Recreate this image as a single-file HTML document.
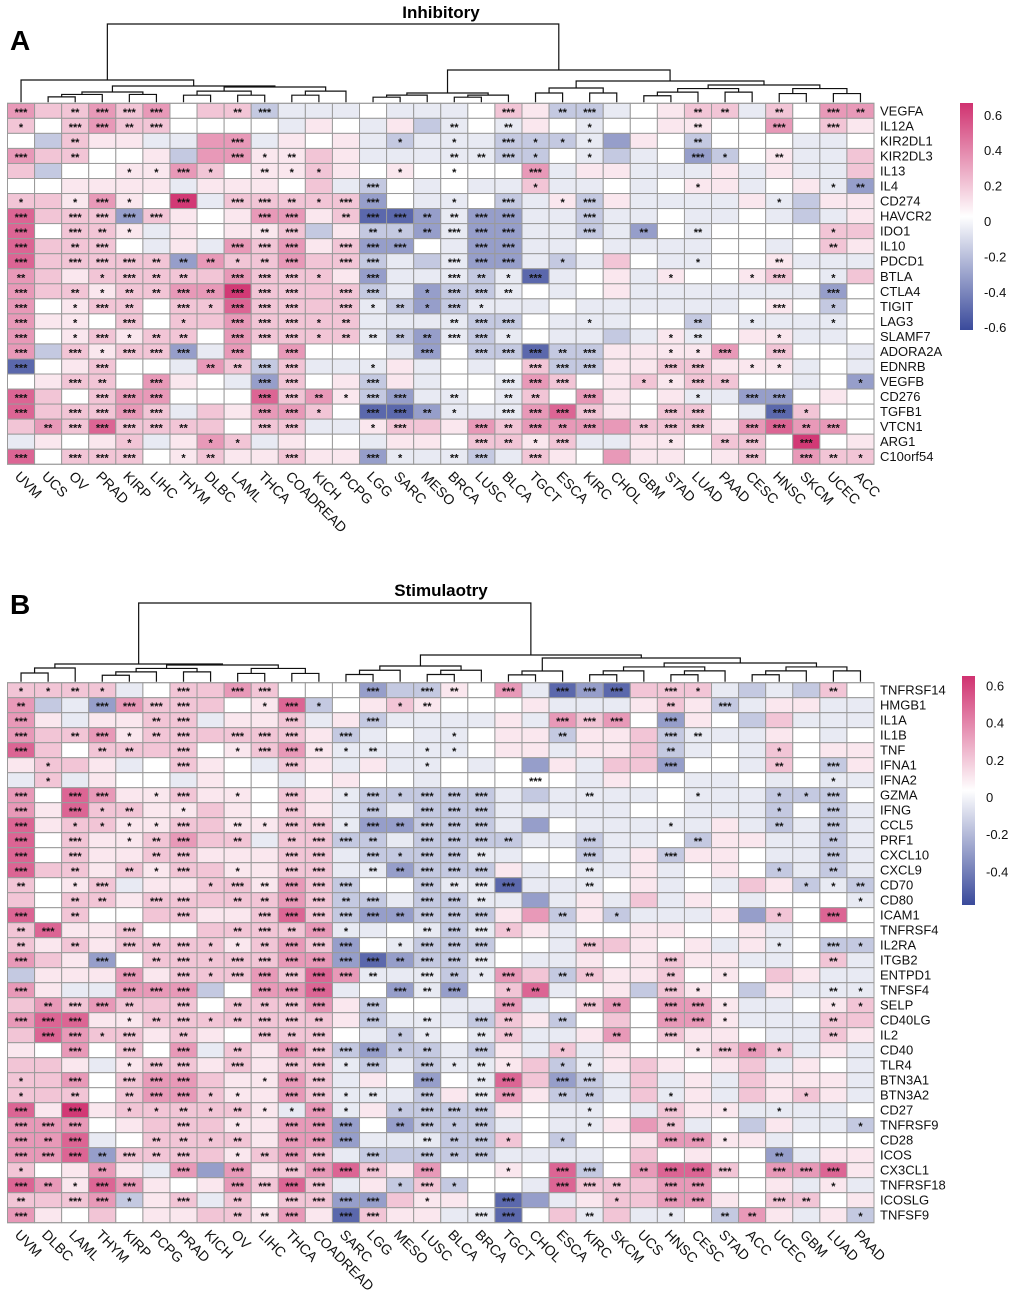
<!DOCTYPE html>
<html><head><meta charset="utf-8"><title>Immune checkpoint heatmaps</title>
<style>
html,body{margin:0;padding:0;background:#fff;}
svg{display:block;font-family:"Liberation Sans",Arial,sans-serif;}
</style></head>
<body>
<svg id="chart" width="1020" height="1299" viewBox="0 0 1020 1299" xmlns="http://www.w3.org/2000/svg">
<defs>
<linearGradient id="gradA" x1="0" y1="0" x2="0" y2="1">
<stop offset="0" stop-color="#d03270"/><stop offset="0.5" stop-color="#ffffff"/><stop offset="1" stop-color="#3a4a9b"/>
</linearGradient>
</defs>
<text x="441" y="18" text-anchor="middle" font-size="17" font-weight="bold">Inhibitory</text>
<text x="10" y="50" font-size="28" font-weight="bold">A</text>
<text x="441" y="596" text-anchor="middle" font-size="17" font-weight="bold">Stimulaotry</text>
<text x="10" y="614" font-size="28" font-weight="bold">B</text>
<g id="layer"></g>
</svg>
<script>
// ---- Panel A data ----
// value codes: C=-0.5 B=-0.32 A=-0.18 a=-0.07 0=0 o=0.07 1=0.17 2=0.3 3=0.45 4=0.58
const colsA = ["UVM","UCS","OV","PRAD","KIRP","LIHC","THYM","DLBC","LAML","THCA","COADREAD","KICH","PCPG","LGG","SARC","MESO","BRCA","LUSC","BLCA","TGCT","ESCA","KIRC","CHOL","GBM","STAD","LUAD","PAAD","CESC","HNSC","SKCM","UCEC","ACC"];
const rowsA = ["VEGFA","IL12A","KIR2DL1","KIR2DL3","IL13","IL4","CD274","HAVCR2","IDO1","IL10","PDCD1","BTLA","CTLA4","TIGIT","LAG3","SLAMF7","ADORA2A","EDNRB","VEGFB","CD276","TGFB1","VTCN1","ARG1","C10orf54"];
const valsA = [
"211212011Aaaa0aa"+"a01oAAa0o11a1022",
"1012110000ao0aoA"+"a0ao0a00oo00201o",
"0A1ooaa22ao0oaAa"+"aaAAAaBo0A000aa0",
"21100oA22oo1oaaa"+"aaAA0aAa0BA0oaa1",
"1A00oo210oo1o0o0"+"0002aooaaaoaoaa1",
"00ooooaooo01aA0a"+"0aa1aa0a0ooa0oaB",
"11o2o04a11111B0a"+"a0AaoAoaaaaoaAoo",
"3111B1o0o22o1CCB"+"aBBaaAaa0aa0aAao",
"3011oao0oo1AoAAB"+"aBBaaAaB0a000011",
"31110aoa212o1BB0"+"aBBaa0aaaa00a01o",
"311111B211211AaA"+"aBBaAa10aa00oaaa",
"21o111112111oBaa"+"aAaCa0oao00o10a1",
"211o112241111AaB"+"AAa0a0oaaaaaaaB0",
"20o1101131111aAB"+"Aaaa0aaaaaa0o0A0",
"2oo0101121111aaa"+"aAA0aaa00A0aaaa0",
"20o1o11021111aAB"+"aAa0aaAaoa0ooaa0",
"2A1o11Ba202000aB"+"0AACAAoooo20100a",
"C0o100a21A1aaaoa"+"0a01AAoo11oooa0a",
"0o1102o0aB10oAoa"+"00a210o1o1100a0B",
"310122000312oABa"+"a0a102o0oaaBB0o0",
"311121a1o2210CCB"+"aaa231o0110aC100",
"12131111011aao11"+"o212222111o23220",
"ao0o1ao21ao00aoo"+"011o1aaoo011040o",
"301110o1oo1ooBaa"+"aAa1o02oo0o10211"];
const starsA = [
"3023330023000000"+"0030230002202032",
"1033230000000000"+"2020010002003030",
"0020000030000010"+"1031110002000000",
"3020000031200000"+"2231010003102000",
"0000113102110010"+"1003000000000000",
"0000000000000300"+"0001000001000012",
"1013103033213300"+"1030130000001000",
"3033330003302332"+"2330030000000000",
"3032100002300212"+"3330030202000010",
"3023000033303330"+"0330000000000020",
"3033322212303300"+"3330100001002000",
"2001322033310300"+"3213000010013010",
"3021223233303301"+"3320000000000030",
"3013203133303121"+"3100000000003010",
"3010301033312000"+"2330010002010010",
"3013122033312222"+"3310000012001000",
"3031333030300003"+"0333230011303000",
"3003000223300100"+"0003330033011000",
"0032030003300300"+"0033300113200001",
"3003330003321330"+"2022030001033000",
"3033330003310332"+"1033330033003100",
"0233332003300130"+"0323230233033230",
"0000100110000000"+"0321300010230300",
"3033301200300310"+"2303000000030321"];
const ticksA = ["0.6","0.4","0.2","0","-0.2","-0.4","-0.6"];
const tickValsA = [0.6,0.4,0.2,0,-0.2,-0.4,-0.6];

// ---- Panel B data ----
const colsB = ["UVM","DLBC","LAML","THYM","KIRP","PCPG","PRAD","KICH","OV","LIHC","THCA","COADREAD","SARC","LGG","MESO","LUSC","BLCA","BRCA","TGCT","CHOL","ESCA","KIRC","SKCM","UCS","HNSC","CESC","STAD","ACC","UCEC","GBM","LUAD","PAAD"];
const rowsB = ["TNFRSF14","HMGB1","IL1A","IL1B","TNF","IFNA1","IFNA2","GZMA","IFNG","CCL5","PRF1","CXCL10","CXCL9","CD70","CD80","ICAM1","TNFRSF4","IL2RA","ITGB2","ENTPD1","TNFSF4","SELP","CD40LG","IL2","CD40","TLR4","BTN3A1","BTN3A2","CD27","TNFRSF9","CD28","ICOS","CX3CL1","TNFRSF18","ICOSLG","TNFSF9"];
const valsB = [
"1111a01121000BAA"+"o02aCBC111aAaA10",
"2AaB21110o3A0o1o"+"000oaaao1oAaooaa",
"2oaoo11aoo1aoAaa"+"aaoa2120Bo0A1aaa",
"2112o111111oAa0a"+"a0ooAoo1Aaaao0a0",
"31011110o12oaaaa"+"a0ooaoo1Aa0a10oo",
"o11oa01o0a1oaoaa"+"0a0Boa11B00a10Ao",
"a1ao00ao00a0o00a"+"00000ao00aa0a0aa",
"2032oo1oo01oaAAA"+"AAaAaaaa0aaaAAA0",
"2o311oo1o01oaAaA"+"AAaaaaa00aaaA0Aa",
"3o11oo11oo11aBBA"+"AAaB0aaaaaoaAaAa",
"301oo1211a11AAaA"+"AAAaaAaa0AooaaAa",
"301oo11ooo11aAAA"+"Aaa00AaoAoo0aaAa",
"311o1o11oo11aaBA"+"AAoa0aaoa0o0AaAa",
"10o1aoo11o21A00A"+"aaCaaa0oa0a1oAaA",
"1011o1111121AAaA"+"AaaBaoa1ao0a000a",
"3010011oo131ABBA"+"AAo2AoAaaaoB1030",
"13oo10011112aa0a"+"Aa1oa00oo00oa000",
"1o1o1111o121B0aA"+"AA00a11o0oaoa0AA",
"21oB01111122BCBA"+"Aa0aao0o1ooaa01a",
"Aooo2o1112132aaa"+"Aa21A1oo10o01oaa",
"2oaa222A0223a0Ba"+"B013a0oA1o0Aoaaa",
"121211101112oA00"+"aa2a012022oaa0o1",
"233oo1111111oAaa"+"aA1oA01022oaaa11",
"13211o1o01110aAa"+"0a1aao201oo0aa1o",
"o020102a1o21ABAA"+"aAoa1ao00o121aoa",
"11oao11o1o11aAaA"+"aao1Aao1o0o1ao0a",
"11201221oo21ao0B"+"0a31BAa1aoa1oooa",
"11101221oo21aaaA"+"oa2oAAa1aoa1o1oa",
"3o4o11111oa2aoAA"+"AAo0aa0a1ooaaaa0",
"2220o111oo22B0BA"+"AAa0aao21a0AoaaA",
"223a01111o22Baaa"+"AA10A00o22ooa000",
"223B1111o121aAAA"+"AAaaaa010o00Baoo",
"10o2oa2B2o1231o2"+"00o03A023310223o",
"32o32o0o2131aoA1"+"A00a31112200oaoa",
"1112Ao1a1011BB1o"+"o0CBao1122o0110o",
"2o010oo11o2oC1oo"+"aaC01a1aa0A2oaoA"];
const starsB = [
"1121003033000303"+"2030333031000020",
"2003333001310012"+"0000000020300000",
"3000023000300300"+"0000333030000000",
"3023123033303000"+"1000200032000000",
"3002203013321201"+"1000000020001000",
"0100003000300001"+"0000000030002030",
"0100000000000000"+"0003000000000010",
"3033013010301313"+"3300020001001130",
"3031201000300303"+"3300000000001030",
"3011113021331323"+"3300000010002030",
"3030123020233203"+"3320030002000020",
"3030023000330313"+"3200030030000030",
"3020213010330223"+"3300020000001020",
"2013000132333003"+"2330020000000112",
"0022033022332303"+"3200000000000001",
"3020003003333323"+"3300201000001030",
"2300300023231002"+"3310000000000000",
"2020323112333013"+"3300030000001031",
"3003023133333323"+"3300000030000020",
"0000303133333203"+"2130220020100000",
"3000333003330032"+"3012000031000021",
"0233203022330300"+"0030032033100011",
"3330123123320302"+"0320200033100020",
"0331302003230011"+"0220002030000020",
"0030303020333312"+"0300100001321000",
"0000133030331303"+"1210110000000000",
"1030333001330003"+"0230330000000000",
"1020233110331203"+"0330220010000100",
"3030112121131013"+"3300010030101000",
"3330003010333023"+"1300010020000001",
"3230022120333002"+"2310100033100000",
"3332323012330303"+"2300000000002000",
"1002003030333303"+"0010330233303330",
"3213300033330013"+"1000332033000010",
"2033103020333301"+"0030001033003200",
"3000000022303300"+"0330020010220001"];
const ticksB = ["0.6","0.4","0.2","0","-0.2","-0.4"];
const tickValsB = [0.6,0.4,0.2,0,-0.2,-0.4];

const codeVal = {"C":-0.5,"B":-0.32,"A":-0.18,"a":-0.07,"0":0,"o":0.07,"1":0.17,"2":0.3,"3":0.45,"4":0.58};

const NS = "http://www.w3.org/2000/svg";
const layer = document.getElementById("layer");
function mk(tag, attrs, parent){
  const e = document.createElementNS(NS, tag);
  for (const k in attrs) e.setAttribute(k, attrs[k]);
  (parent||layer).appendChild(e);
  return e;
}
function color(v){
  const t = Math.min(1, Math.abs(v)/0.6);
  const c = v >= 0 ? [208,50,112] : [58,74,155];
  const r = Math.round(255 + (c[0]-255)*t), g = Math.round(255 + (c[1]-255)*t), b = Math.round(255 + (c[2]-255)*t);
  return "rgb("+r+","+g+","+b+")";
}

function drawPanel(p){
  const g = mk("g", {});
  
  
  const x0 = 7.5, cw = (874 - 7.5) / p.cols.length, rh = p.rh, y0 = p.y0;
  const xs = i => x0 + i*cw;
  const ys = j => y0 + j*rh;
  const yBottom = ys(p.rows.length);
  for (let j=0;j<p.rows.length;j++){
    for (let i=0;i<p.cols.length;i++){
      const v = codeVal[p.vals[j][i]];
      const r = mk("rect", {x:xs(i), y:ys(j), width:cw, height:rh, fill:color(v), stroke:"#9a9a9a", "stroke-width":"1"}, g);
      
      
      const s = +p.stars[j][i];
      if (s > 0){
        const t = mk("text", {x:xs(i)+cw/2, y:ys(j)+rh/2+5, "text-anchor":"middle", "font-size":"11", "font-weight":"bold", fill:"#111"}, g);
        t.textContent = "*".repeat(s);
        
        
      }
    }
    const lab = mk("text", {x:880, y:ys(j)+rh/2+4.5, "font-size":"13", fill:"#111"});
    lab.textContent = p.rows[j];
    
    
  }
  mk("rect", {x:x0, y:y0, width:xs(p.cols.length)-x0, height:yBottom-y0, fill:"none", stroke:"#9a9a9a", "stroke-width":"1"}, g);
  for (let i=0;i<p.cols.length;i++){
    const cx = xs(i) + cw/2 - 7, cy = yBottom + 13;
    const t = mk("text", {x:cx, y:cy, "font-size":"14", fill:"#111", transform:"rotate(45 "+cx+" "+cy+")"});
    t.textContent = p.cols[i];
    
    
  }
  const cb = mk("rect", {x:p.cbX, y:p.cbTop, width:13, height:p.cbBot-p.cbTop, fill:"url(#"+p.grad+")"});
  
  
  const cy = v => p.cbZero - v * p.cbScale;
  for (let k=0;k<p.ticks.length;k++){
    const t = mk("text", {x:p.cbX+24, y:cy(p.tickVals[k])+5, "font-size":"13", fill:"#111"});
    t.textContent = p.ticks[k];
    
    
  }
  const dg = mk("g", {stroke:"#111", "stroke-width":"1.2", fill:"none"});
  
  
  const leafY = y0 - 1;
  function auto(lo, hi, y){
    if (lo === hi) return lo;
    const n = hi - lo + 1;
    const depth = Math.ceil(Math.log2(n));
    const d = Math.min(5, (leafY - 3 - y) / depth);
    const mid = Math.floor((lo + hi) / 2);
    return {y:y, l:auto(lo, mid, y+d), r:auto(mid+1, hi, y+d)};
  }
  function build(spec){
    if (spec.range) return auto(spec.range[0], spec.range[1], spec.y + p.yOff);
    return {y:spec.y + p.yOff, l:build(spec.l), r:build(spec.r)};
  }
  function draw(node){
    if (typeof node === "number") return {x:xs(node)+cw/2, y:leafY};
    const a = draw(node.l), b = draw(node.r);
    mk("path", {d:"M"+a.x+","+a.y+"V"+node.y+"H"+b.x+"V"+b.y}, dg);
    return {x:(a.x+b.x)/2, y:node.y};
  }
  draw(build(p.tree));
}

drawPanel({key:"panel-a", cols:colsA, rows:rowsA, vals:valsA, stars:starsA, y0:103.3, rh:15.04, yOff:0,
  ticks:ticksA, tickVals:tickValsA, cbX:960, cbTop:103, cbBot:330, cbZero:221, cbScale:177, grad:"gradA",
  tree:{y:24, l:{y:80, l:{range:[0,0],y:0}, r:{y:86, l:{range:[1,5],y:92}, r:{range:[6,12],y:87}}},
              r:{y:70, l:{range:[13,18],y:93}, r:{y:81, l:{range:[19,22],y:88}, r:{range:[23,31],y:85}}}}});
drawPanel({key:"panel-b", cols:colsB, rows:rowsB, vals:valsB, stars:starsB, y0:682.7, rh:15.0, yOff:575,
  ticks:ticksB, tickVals:tickValsB, cbX:962, cbTop:676, cbBot:905, cbZero:797, cbScale:186, grad:"gradA",
  tree:{y:28, l:{y:89, l:{range:[0,2],y:93}, r:{range:[3,11],y:90}},
              r:{y:80, l:{range:[12,17],y:91}, r:{y:83, l:{range:[18,20],y:96}, r:{range:[21,31],y:88}}}}});
</script>
</body></html>
